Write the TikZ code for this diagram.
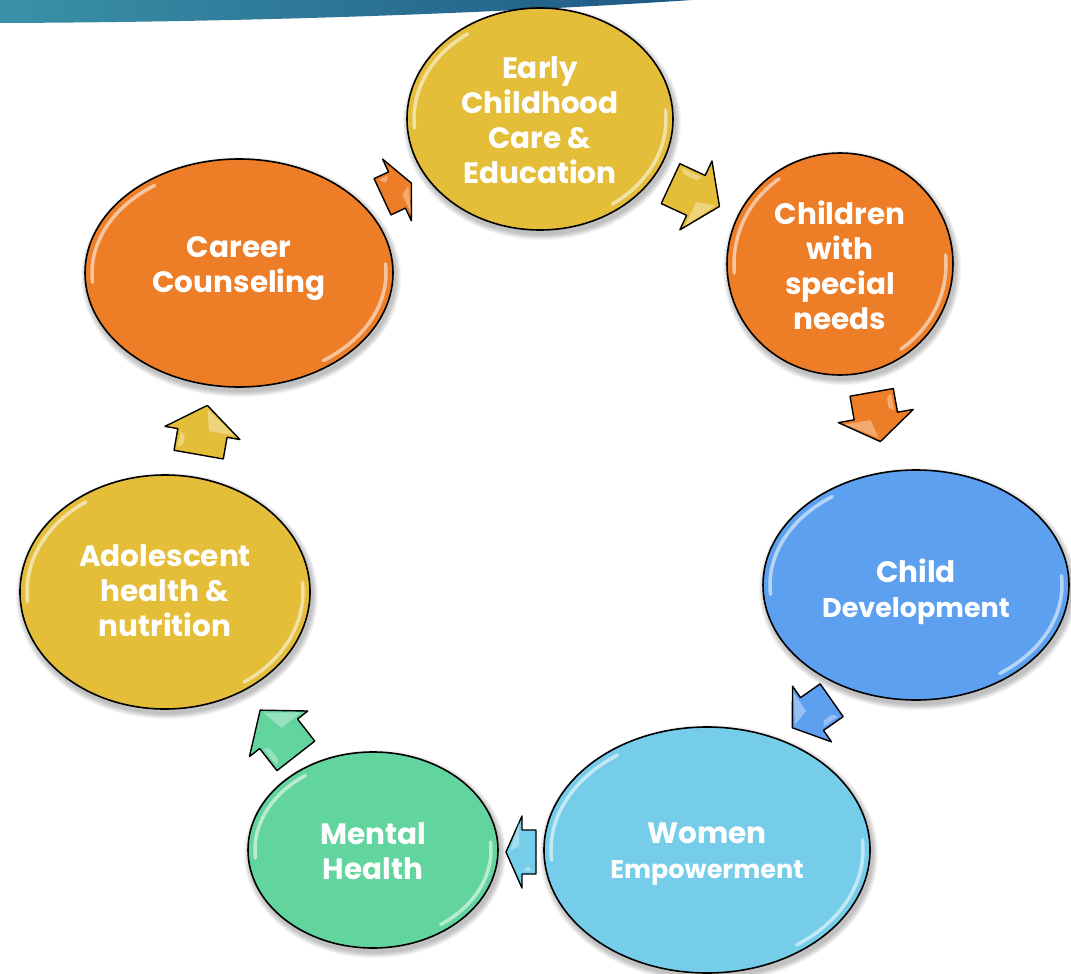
\documentclass[tikz,border=0pt]{standalone}
\usepackage{fontspec}
\setmainfont{Poppins}
\usetikzlibrary{shapes.geometric}
\definecolor{cyel}{RGB}{228,190,56}
\definecolor{corange}{RGB}{237,125,38}
\definecolor{cblue}{RGB}{93,160,240}
\definecolor{clight}{RGB}{118,205,234}
\definecolor{cgreen}{RGB}{98,212,157}
\definecolor{barL}{RGB}{58,145,168}
\definecolor{barR}{RGB}{30,88,132}
\tikzset{
  bub/.style={ellipse, draw=black, line width=1.6pt, inner sep=0pt, outer sep=0pt},
  gloss/.style={white, opacity=.55, line width=3.5pt, line cap=round},
  txt/.style={text=white, align=center, font=\fontsize{29.5}{35}\selectfont\bfseries, inner sep=0pt},
  arrowsty/.style={draw=black, line width=1.4pt, line join=round},
  shine/.style={fill=white, opacity=.35},
}
\newcommand\bubble[6]{%
  \foreach \k in {1,...,6}{\fill[black,opacity=.045] (#2+2,#3+4) ellipse [x radius=#4+\k, y radius=#5+\k];}
  \node[bub, fill=#6, minimum width={2*#4pt}, minimum height={2*#5pt}] (#1) at (#2,#3) {};
  \begin{scope}[shift={(#2,#3)}]
    \draw[gloss] (175:{#4-7} and {#5-7}) arc[start angle=175, end angle=235, x radius=#4-7, y radius=#5-7];
    \draw[gloss] (-5:{#4-7} and {#5-7}) arc[start angle=-5, end angle=55, x radius=#4-7, y radius=#5-7];
  \end{scope}}
\newcommand\blockarrow[8]{%
  \begin{scope}[shift={(#1,#2)}, rotate=#3]
    \filldraw[arrowsty, fill=#8] (-#4/2,#6) -- (#4/2-#7,#6) -- (#4/2-#7,#5) -- (#4/2,0) -- (#4/2-#7,-#5) -- (#4/2-#7,-#6) -- (-#4/2,-#6) -- cycle;
    \fill[shine] (#4/2-#7+3,#5-6) -- (#4/2-4,1) -- (#4/2-#7+3,6) -- cycle;
    \fill[shine] (-#4/2+4,-#6+3) -- (#4/2-#7-2,-#6+3) -- (#4/2-#7-6,-#6+8) -- (-#4/2+8,-#6+8) -- cycle;
  \end{scope}}
\begin{document}
\begin{tikzpicture}[x=1pt, y=-1pt]
  \useasboundingbox (0,0) rectangle (1071,974);
  \fill[white] (0,0) rectangle (1071,974);
  % top banner
  \shade[left color=barL, right color=barR] (0,0) -- (692,0) .. controls (480,14) and (250,22) .. (0,23) -- cycle;
  % bubbles
  \bubble{E}{540}{119}{133}{111}{cyel}
  \bubble{C}{840}{264}{113}{111}{corange}
  \bubble{D}{916}{585}{153}{115}{cblue}
  \bubble{W}{707}{850}{163}{123}{clight}
  \bubble{M}{373}{850}{125}{98}{cgreen}
  \bubble{A}{165}{592}{145}{117}{cyel}
  \bubble{K}{239}{273}{154}{114}{corange}
  % texts
  \node[txt] (Et) at (540,120) {Early\\Childhood\\Care \&\\Education};
  \node[txt] (Ct) at (840,265) {Children\\with\\special\\needs};
  \node[txt] (Dt) at (916,592) {Child\\{\fontsize{27}{33}\selectfont Development}};
  \node[txt] (Wt) at (707,854) {Women\\{\fontsize{25.5}{33}\selectfont Empowerment}};
  \node[txt] (Mt) at (373,851) {Mental\\Health};
  \node[txt] (At) at (165,591) {Adolescent\\health \&\\nutrition};
  \node[txt] (Kt) at (239,269) {Career\\Counseling};
  % block arrows of the cycle
  \blockarrow{397}{190}{25}{32}{34}{20}{16}{corange}
  \blockarrow{695}{195}{-25}{54}{38}{22}{26}{cyel}
  \blockarrow{876}{417}{-80}{50}{38}{22}{26}{corange}
  \blockarrow{812}{714}{-145}{48}{34}{20}{24}{cblue}
  \blockarrow{521}{852}{180}{30}{36}{22}{16}{clight}
  \blockarrow{278}{733}{128}{58}{37}{24}{30}{cgreen}
  \blockarrow{203}{430}{80}{50}{38}{25}{28}{cyel}
\end{tikzpicture}
\end{document}
